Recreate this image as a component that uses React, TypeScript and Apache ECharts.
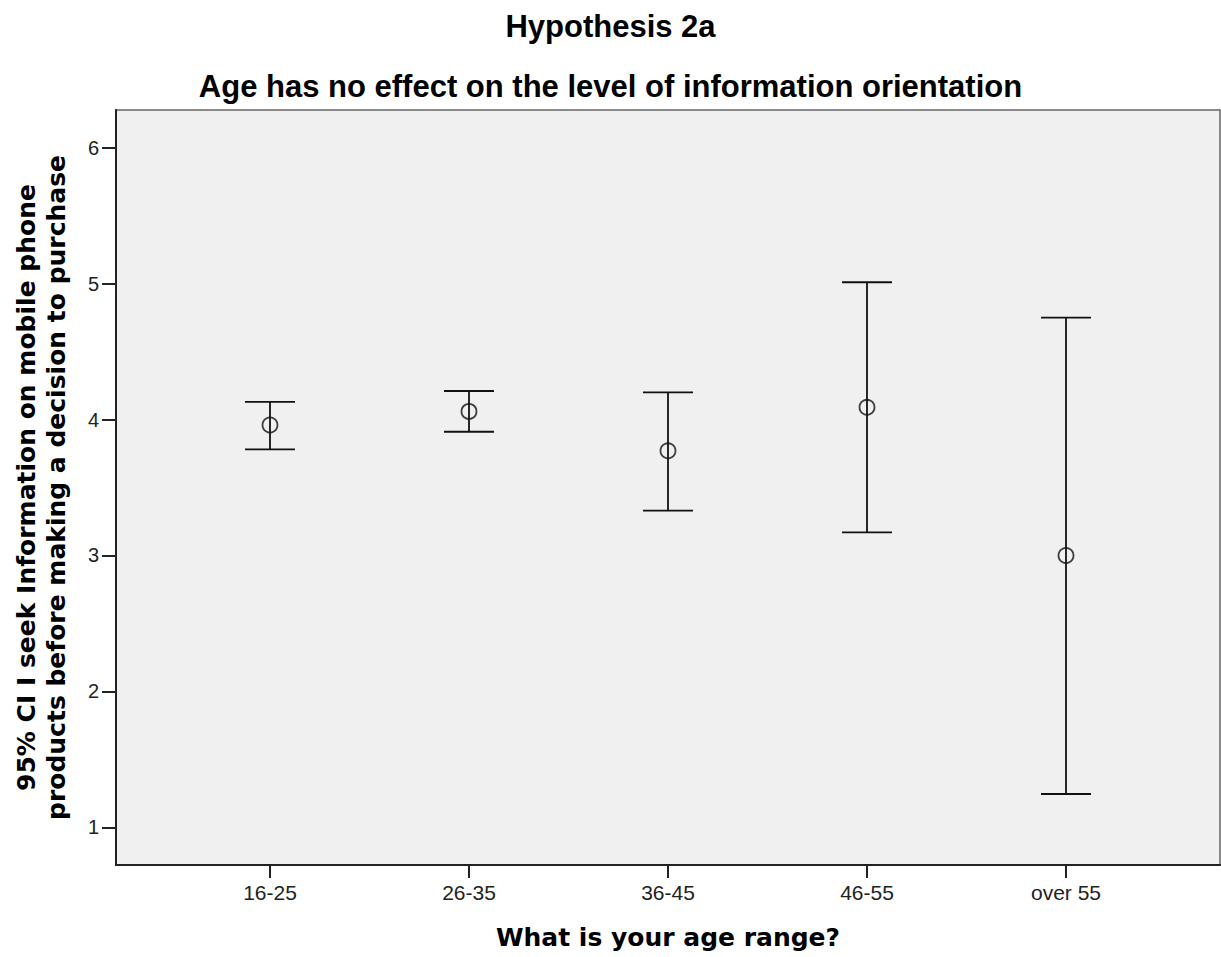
import React, { useEffect, useRef } from "react";
import * as echarts from "echarts";

const categories = ["16-25", "26-35", "36-45", "46-55", "over 55"];
const means = [3.96, 4.06, 3.77, 4.09, 3.0];
const lowerCI = [3.78, 3.91, 3.33, 3.17, 1.245];
const upperCI = [4.13, 4.21, 4.2, 5.01, 4.75];
const yTicks = [1, 2, 3, 4, 5, 6];

const titleText = "Hypothesis 2a";
const subtitleText = "Age has no effect on the level of information orientation";
const xAxisTitle = "What is your age range?";
const yAxisTitle =
  "95% CI I seek Information on mobile phone\nproducts before making a decision to purchase";

export default function App() {
  const ref = useRef<HTMLDivElement>(null);
  useEffect(() => {
    if (!ref.current) return;
    const chart = echarts.init(ref.current, undefined, { renderer: "svg" });
    const xPos = categories.map((_, i) => i + 1);
    const errData = xPos.map((x, i) => [x, lowerCI[i], upperCI[i]]);
    const meanData = xPos.map((x, i) => [x, means[i]]);
    chart.setOption({
      animation: false,
      backgroundColor: "#ffffff",
      title: [
        {
          text: titleText,
          left: "center",
          top: 6,
          textStyle: { fontFamily: "Liberation Sans", fontWeight: "bold", fontSize: 31, color: "#000" },
        },
        {
          text: subtitleText,
          left: "center",
          top: 66,
          textStyle: { fontFamily: "Liberation Sans", fontWeight: "bold", fontSize: 31, color: "#000" },
        },
      ],
      grid: {
        left: 116,
        right: 1,
        top: 110,
        bottom: 92,
        show: true,
        backgroundColor: "#f0f0f0",
        borderColor: "#666",
        borderWidth: 1.5,
        outerBoundsMode: "none",
        containLabel: false,
      },
      xAxis: {
        type: "value",
        min: 1 - 154 / 199,
        max: 5 + 154 / 199,
        name: xAxisTitle,
        nameLocation: "middle",
        nameGap: 60,
        nameMoveOverlap: false,
        nameTextStyle: { fontFamily: "DejaVu Sans", fontWeight: "bold", fontSize: 25, color: "#000" },
        axisLine: { show: true, onZero: false, lineStyle: { color: "#222", width: 2 } },
        axisTick: { show: true, length: 13, customValues: xPos, lineStyle: { color: "#222", width: 2 } },
        axisLabel: {
          customValues: xPos,
          margin: 17,
          fontFamily: "Liberation Sans",
          fontSize: 21,
          color: "#222",
          formatter: (v: number) => categories[Math.round(v) - 1] ?? "",
        },
        splitLine: { show: false },
      },
      yAxis: {
        type: "value",
        min: 1 - 37.7 / 135.9,
        max: 6 + 37.7 / 135.9,
        name: yAxisTitle,
        nameLocation: "middle",
        nameRotate: 90,
        nameGap: 45,
        nameMoveOverlap: false,
        nameTextStyle: { fontFamily: "DejaVu Sans", fontWeight: "bold", fontSize: 25, color: "#000", lineHeight: 30 },
        axisLine: { show: true, onZero: false, lineStyle: { color: "#222", width: 2 } },
        axisTick: { show: true, length: 14, customValues: yTicks, lineStyle: { color: "#222", width: 2 } },
        axisLabel: {
          customValues: yTicks,
          margin: 17,
          fontFamily: "Liberation Sans",
          fontSize: 20,
          color: "#222",
        },
        splitLine: { show: false },
      },
      series: [
        {
          type: "custom",
          data: errData,
          renderItem: (params: any, api: any) => {
            const x = api.value(0);
            const lo = api.coord([x, api.value(1)]);
            const hi = api.coord([x, api.value(2)]);
            const half = 25;
            const style = { stroke: "#111", lineWidth: 1.8 };
            return {
              type: "group",
              children: [
                { type: "line", shape: { x1: lo[0], y1: lo[1], x2: hi[0], y2: hi[1] }, style },
                { type: "line", shape: { x1: hi[0] - half, y1: hi[1], x2: hi[0] + half, y2: hi[1] }, style },
                { type: "line", shape: { x1: lo[0] - half, y1: lo[1], x2: lo[0] + half, y2: lo[1] }, style },
              ],
            };
          },
          z: 2,
        },
        {
          type: "scatter",
          data: meanData,
          symbol: "circle",
          symbolSize: 15,
          itemStyle: { color: "rgba(0,0,0,0)", borderColor: "#111", borderWidth: 1.8 },
          z: 3,
        },
      ],
    });
    return () => chart.dispose();
  }, []);
  return (
    <div
      ref={ref}
      style={{ position: "absolute", left: 0, top: 0, width: 1221, height: 957 }}
    />
  );
}
